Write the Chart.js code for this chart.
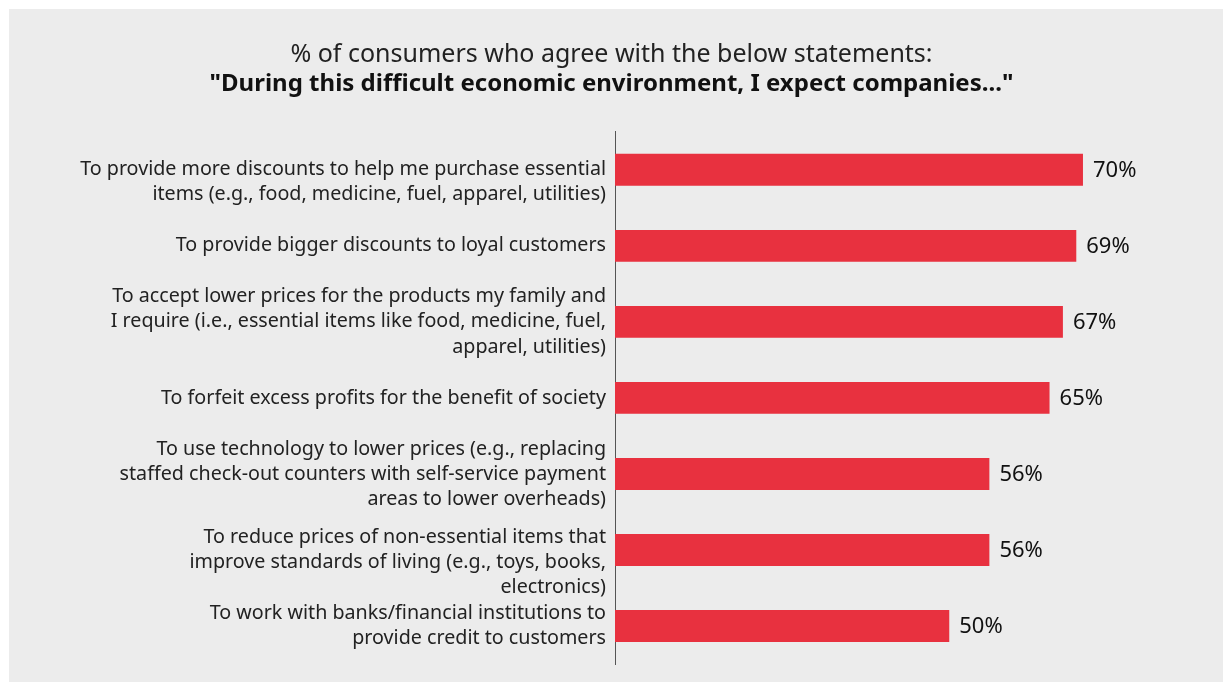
<!DOCTYPE html>
<html>
<head>
<meta charset="utf-8">
<script src="https://cdn.jsdelivr.net/npm/chart.js@4"></script>
<style>
    html, body { margin: 0; padding: 0; background: #ffffff; }
    #wrap { width: 1223px; height: 682px; position: relative; }
</style>
</head>
<body>
<div id="wrap"><canvas id="grafico"></canvas></div>
<script>
// datos
const titulo = '% of consumers who agree with the below statements:';
const subtitulo = '"During this difficult economic environment, I expect companies..."';

// la linea vacia baja el texto como en el original
const categorias = [
    ['', 'To provide more discounts to help me purchase essential', 'items (e.g., food, medicine, fuel, apparel, utilities)'],
    ['To provide bigger discounts to loyal customers'],
    ['To accept lower prices for the products my family and', 'I require (i.e., essential items like food, medicine, fuel,', 'apparel, utilities)'],
    ['To forfeit excess profits for the benefit of society'],
    ['To use technology to lower prices (e.g., replacing', 'staffed check-out counters with self-service payment', 'areas to lower overheads)'],
    ['', 'To reduce prices of non-essential items that', 'improve standards of living (e.g., toys, books,', 'electronics)'],
    ['To work with banks/financial institutions to', 'provide credit to customers']
];
const valores = [70, 69, 67, 65, 56, 56, 50];

const fuente = "'Noto Sans', sans-serif";

// fondo gris con margen blanco arriba y a la izquierda
const fondo = {
    id: 'fondo',
    beforeDraw(chart) {
        const ctx = chart.ctx;
        ctx.save();
        ctx.fillStyle = '#ececec';
        ctx.fillRect(9, 9, chart.width - 9, chart.height - 9);
        ctx.restore();
    }
};

// etiquetas de valor al final de cada barra
const etiquetas = {
    id: 'etiquetas',
    afterDatasetsDraw(chart) {
        const ctx = chart.ctx;
        const meta = chart.getDatasetMeta(0);
        ctx.save();
        ctx.font = '22px ' + fuente;
        ctx.fillStyle = '#111111';
        ctx.textBaseline = 'middle';
        ctx.textAlign = 'left';
        meta.data.forEach((barra, i) => {
            ctx.fillText(valores[i] + '%', barra.x + 10, barra.y + 1);
        });
        ctx.restore();
    }
};

const ctx = document.getElementById('grafico').getContext('2d');
window.grafico = new Chart(ctx, {
    type: 'bar',
    data: {
        labels: categorias,
        datasets: [{
            data: valores,
            backgroundColor: '#e8313f',
            borderWidth: 0,
            categoryPercentage: 1,
            barPercentage: 0.42
        }]
    },
    options: {
        indexAxis: 'y',
        responsive: true,
        maintainAspectRatio: false,
        animation: false,
        layout: {
            padding: { left: 9, right: 9, top: 9, bottom: 18 }
        },
        plugins: {
            legend: { display: false },
            tooltip: { enabled: false },
            title: {
                display: true,
                text: titulo,
                color: '#222222',
                font: { family: fuente, size: 25, weight: 'normal', lineHeight: 1.2 },
                padding: { top: 31, bottom: 0 }
            },
            subtitle: {
                display: true,
                text: subtitulo,
                color: '#111111',
                font: { family: fuente, size: 24, weight: 'bold', lineHeight: 1.2 },
                padding: { top: 0, bottom: 33 }
            }
        },
        scales: {
            x: {
                display: false,
                min: 0,
                max: 89.6
            },
            y: {
                afterFit(scale) {
                    scale.width = 606;
                    scale.paddingTop = 0;
                    scale.paddingBottom = 0;
                },
                grid: { display: false, drawTicks: false },
                border: { display: true, color: '#555555', width: 1 },
                ticks: {
                    padding: 9,
                    color: '#222222',
                    font: { family: fuente, size: 19.7, lineHeight: 1.27 },
                    autoSkip: false
                }
            }
        }
    },
    plugins: [fondo, etiquetas]
});
</script>
</body>
</html>
